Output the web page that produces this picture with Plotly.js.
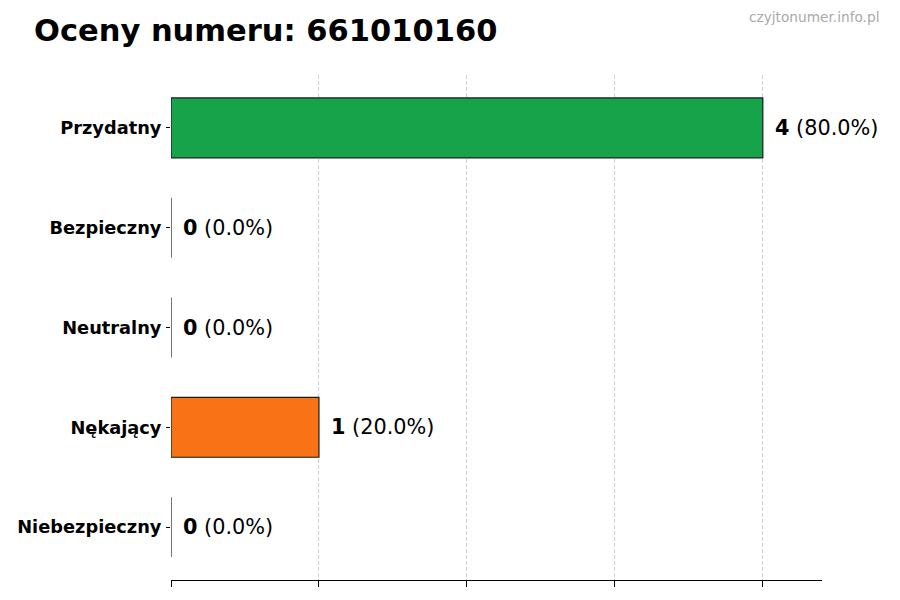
<!DOCTYPE html>
<html>
<head>
<meta charset="utf-8">
<script src="https://cdn.plot.ly/plotly-3.0.1.min.js"></script>
<style>
  html, body { margin: 0; padding: 0; background: #fff; }
  #chart { width: 900px; height: 600px; }
</style>
</head>
<body>
<div id="chart"></div>
<script>
const categories = ['Przydatny', 'Bezpieczny', 'Neutralny', 'Nękający', 'Niebezpieczny'];
const counts = [4, 0, 0, 1, 0];
const percents = [80.0, 0.0, 0.0, 20.0, 0.0];
const barColors = ['#16a34a', '#3b82f6', '#9ca3af', '#f97316', '#dc2626'];
const xTicks = [0, 1, 2, 3, 4];

const gd = document.getElementById('chart');

const data = [
  {
    type: 'bar',
    orientation: 'h',
    y: categories,
    x: counts,
    width: 0.6,
    marker: { color: barColors, line: { color: '#1a1a1a', width: 1.2 } },
    hoverinfo: 'x+y'
  }
];

// value labels next to each bar
const annotations = categories.map((c, i) => ({
  x: counts[i],
  y: c,
  xref: 'x',
  yref: 'y',
  xanchor: 'left',
  yanchor: 'middle',
  xshift: 10,
  showarrow: false,
  text: '<b>' + counts[i] + '</b> (' + percents[i].toFixed(1) + '%)',
  font: { family: 'DejaVu Sans', size: 20.8, color: '#000' }
}));

// watermark, top right
annotations.push({
  x: (881 - 171) / 651, y: 1 + (75 - 17) / 505,
  xref: 'paper', yref: 'paper',
  xanchor: 'right', yanchor: 'middle',
  showarrow: false, text: 'czyjtonumer.info.pl',
  font: { family: 'DejaVu Sans', size: 13.7, color: '#aaaaaa' }
});

const layout = {
  width: 900,
  height: 600,
  paper_bgcolor: '#fff',
  plot_bgcolor: '#fff',
  font: { family: 'DejaVu Sans', color: '#000' },
  showlegend: false,
  title: {
    text: '<b>Oceny numeru: 661010160</b>',
    font: { family: 'DejaVu Sans', size: 30.5, color: '#000' },
    x: 34 / 900, xref: 'container', xanchor: 'left',
    y: 1 - 30 / 600, yref: 'container', yanchor: 'middle'
  },
  margin: { l: 171, r: 78, t: 75, b: 20 },
  xaxis: {
    range: [0, 4.4],
    tickvals: xTicks,
    showticklabels: false,
    ticks: 'outside',
    ticklen: 6,
    tickcolor: '#000',
    showline: true,
    linecolor: '#000',
    linewidth: 1,
    showgrid: true,
    gridcolor: '#d2d2d2',
    griddash: '4px,2px',
    gridwidth: 1,
    zeroline: false,
    fixedrange: true
  },
  yaxis: {
    type: 'category',
    autorange: false,
    range: [4.53, -0.53],
    ticks: 'outside',
    ticklen: 4,
    tickcolor: '#000',
    ticklabelstandoff: 1,
    showline: false,
    showgrid: false,
    zeroline: false,
    tickfont: { family: 'DejaVu Sans', size: 17.8, color: '#000', weight: 'bold' },
    fixedrange: true
  },
  annotations: annotations
};

Plotly.newPlot(gd, data, layout, { displayModeBar: false, staticPlot: true });
</script>
</body>
</html>
